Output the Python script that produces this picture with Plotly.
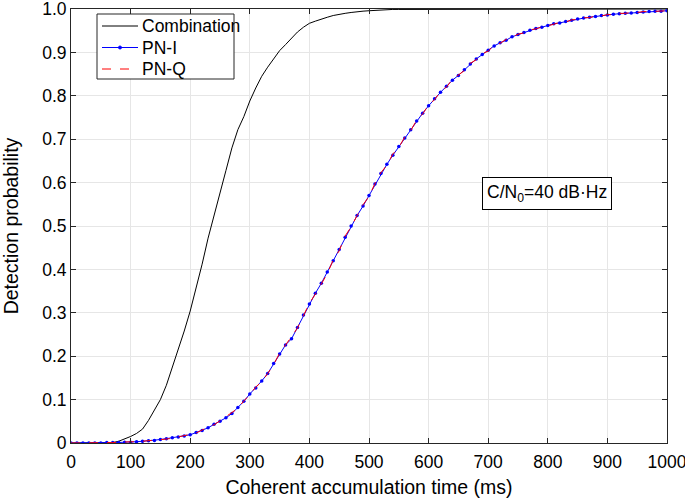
import plotly.graph_objects as go

# coherent accumulation time (ms)
t_ms = list(range(0, 1001, 10))

combination = [
    0, 0, 0, 0, 0, 0, 0, 0.001, 0.004, 0.009,
    0.015, 0.022, 0.032, 0.052, 0.075, 0.100, 0.133, 0.175, 0.214, 0.258,
    0.304, 0.357, 0.412, 0.472, 0.522, 0.572, 0.628, 0.680, 0.722, 0.752,
    0.788, 0.818, 0.845, 0.866, 0.886, 0.904, 0.918, 0.933, 0.947, 0.958,
    0.967, 0.972, 0.977, 0.981, 0.985, 0.988, 0.990, 0.992, 0.994, 0.995,
    0.996, 0.997, 0.998, 0.998, 0.999, 0.999, 0.999, 0.999, 1.0, 1.0,
    1.0, 1.0, 1.0, 1.0, 1.0, 1.0, 1.0, 1.0, 1.0, 1.0,
    1.0, 1.0, 1.0, 1.0, 1.0, 1.0, 1.0, 1.0, 1.0, 1.0,
    1.0, 1.0, 1.0, 1.0, 1.0, 1.0, 1.0, 1.0, 1.0, 1.0,
    1.0, 1.0, 1.0, 1.0, 1.0, 1.0, 1.0, 1.0, 1.0, 1.0,
    1.0,
]

pn_i = [
    0, 0, 0, 0, 0, 0, 0.001, 0.001, 0.001, 0.002,
    0.002, 0.003, 0.004, 0.005, 0.006, 0.008, 0.010, 0.012, 0.014, 0.016,
    0.019, 0.024, 0.029, 0.035, 0.043, 0.050, 0.058, 0.068, 0.082, 0.096,
    0.113, 0.127, 0.143, 0.160, 0.183, 0.205, 0.226, 0.240, 0.266, 0.295,
    0.320, 0.345, 0.368, 0.394, 0.420, 0.446, 0.474, 0.500, 0.524, 0.546,
    0.570, 0.597, 0.621, 0.642, 0.663, 0.683, 0.703, 0.722, 0.742, 0.760,
    0.777, 0.793, 0.808, 0.822, 0.836, 0.847, 0.860, 0.873, 0.885, 0.895,
    0.905, 0.915, 0.922, 0.928, 0.936, 0.941, 0.946, 0.951, 0.955, 0.958,
    0.962, 0.966, 0.968, 0.971, 0.974, 0.977, 0.979, 0.981, 0.983, 0.985,
    0.986, 0.988, 0.989, 0.990, 0.991, 0.992, 0.993, 0.994, 0.995, 0.995,
    0.996,
]

pn_q = [
    0, 0, 0, 0, 0, 0, 0.001, 0.001, 0.002, 0.002,
    0.003, 0.003, 0.004, 0.005, 0.007, 0.008, 0.009, 0.011, 0.014, 0.017,
    0.020, 0.023, 0.030, 0.036, 0.042, 0.051, 0.060, 0.070, 0.080, 0.097,
    0.111, 0.129, 0.141, 0.160, 0.181, 0.207, 0.225, 0.245, 0.265, 0.293,
    0.322, 0.343, 0.368, 0.390, 0.422, 0.443, 0.477, 0.498, 0.524, 0.549,
    0.568, 0.598, 0.623, 0.640, 0.666, 0.681, 0.705, 0.720, 0.744, 0.758,
    0.779, 0.791, 0.810, 0.820, 0.838, 0.849, 0.858, 0.875, 0.883, 0.897,
    0.903, 0.916, 0.921, 0.930, 0.935, 0.942, 0.945, 0.952, 0.954, 0.959,
    0.961, 0.965, 0.969, 0.970, 0.975, 0.976, 0.980, 0.980, 0.984, 0.984,
    0.987, 0.987, 0.990, 0.990, 0.992, 0.992, 0.994, 0.994, 0.995, 0.996,
    0.996,
]

series_names = ["Combination", "PN-I", "PN-Q"]

y_ticks = [0, 0.1, 0.2, 0.3, 0.4, 0.5, 0.6, 0.7, 0.8, 0.9, 1.0]
y_labels = ["0", "0.1", "0.2", "0.3", "0.4", "0.5", "0.6", "0.7", "0.8", "0.9", "1.0"]
x_ticks = list(range(0, 1001, 100))

font = "Liberation Sans, Arial, sans-serif"
W, H = 685, 498
L, R, T, B = 71, 18, 9, 55


def px(x):
    # window pixel -> paper x
    return (x - L) / (W - L - R)


def py(y):
    # window pixel -> paper y
    return (H - B - y) / (H - T - B)


fig = go.Figure()
fig.add_trace(go.Scatter(
    x=t_ms, y=combination, name=series_names[0], mode="lines",
    line=dict(color="black", width=1), showlegend=False,
))
fig.add_trace(go.Scatter(
    x=t_ms, y=pn_i, name=series_names[1], mode="lines+markers",
    line=dict(color="#0000ff", width=1),
    marker=dict(color="#0000ff", size=3.5), showlegend=False,
))
fig.add_trace(go.Scatter(
    x=t_ms, y=pn_q, name=series_names[2], mode="lines",
    line=dict(color="#ff0000", width=1, dash="dash"), showlegend=False,
))

# MATLAB-style legend box (plotly's own legend rows are too tall)
legend_styles = [
    dict(color="black", dash="solid"),
    dict(color="#0000ff", dash="solid"),
    dict(color="#ff0000", dash="dash"),
]
row_y = [26, 47.5, 69]
shapes = [dict(
    type="rect", xref="paper", yref="paper",
    x0=px(97), x1=px(234), y0=py(14), y1=py(79),
    line=dict(color="#262626", width=1), fillcolor="white", layer="above",
)]
annotations = []
for name, style, ry in zip(series_names, legend_styles, row_y):
    shapes.append(dict(
        type="line", xref="paper", yref="paper",
        x0=px(102), x1=px(138), y0=py(ry), y1=py(ry),
        line=dict(color=style["color"], width=1, dash=style["dash"]), layer="above",
    ))
    annotations.append(dict(
        x=px(140), y=py(ry), xref="paper", yref="paper",
        xanchor="left", yanchor="middle", text=name, showarrow=False,
        font=dict(size=17.5),
    ))
shapes.append(dict(
    type="circle", xref="paper", yref="paper",
    x0=px(118.5), x1=px(121.5), y0=py(row_y[1] - 1.5), y1=py(row_y[1] + 1.5),
    line=dict(color="#0000ff", width=1), fillcolor="#0000ff", layer="above",
))

annotations.append(dict(
    x=798, y=0.575, xref="x", yref="y",
    text="C/N<sub>0</sub>=40 dB·Hz", showarrow=False,
    font=dict(size=17.5), bordercolor="black", borderwidth=1,
    borderpad=4, bgcolor="white",
))

fig.update_layout(
    width=W, height=H,
    margin=dict(l=L, r=R, t=T, b=B),
    paper_bgcolor="white", plot_bgcolor="white",
    font=dict(family=font, size=17.5, color="black"),
    showlegend=False,
    shapes=shapes,
    annotations=annotations,
)
fig.update_xaxes(
    range=[0, 1000], tickvals=x_ticks, ticks="inside", ticklen=5,
    tickcolor="#262626", showline=True, linecolor="#262626", mirror="ticks",
    showgrid=True, gridcolor="#e6e6e6", zeroline=False,
    ticklabeloverflow="allow", automargin=False, ticklabelstandoff=3,
    title=dict(text="Coherent accumulation time (ms)", font=dict(size=19.5), standoff=11),
)
fig.update_yaxes(
    range=[0, 1.0], tickvals=y_ticks, ticktext=y_labels, ticks="inside", ticklen=5,
    tickcolor="#262626", showline=True, linecolor="#262626", mirror="ticks",
    showgrid=True, gridcolor="#e6e6e6", zeroline=False,
    ticklabeloverflow="allow", automargin=False,
    title=dict(text="Detection probability", font=dict(size=19.5), standoff=18),
)

# drop the page's default body margin so the figure sits at the window's corner
fig.write_html("out.html", config={"displayModeBar": False},
               post_script="document.body.style.margin='0';")
